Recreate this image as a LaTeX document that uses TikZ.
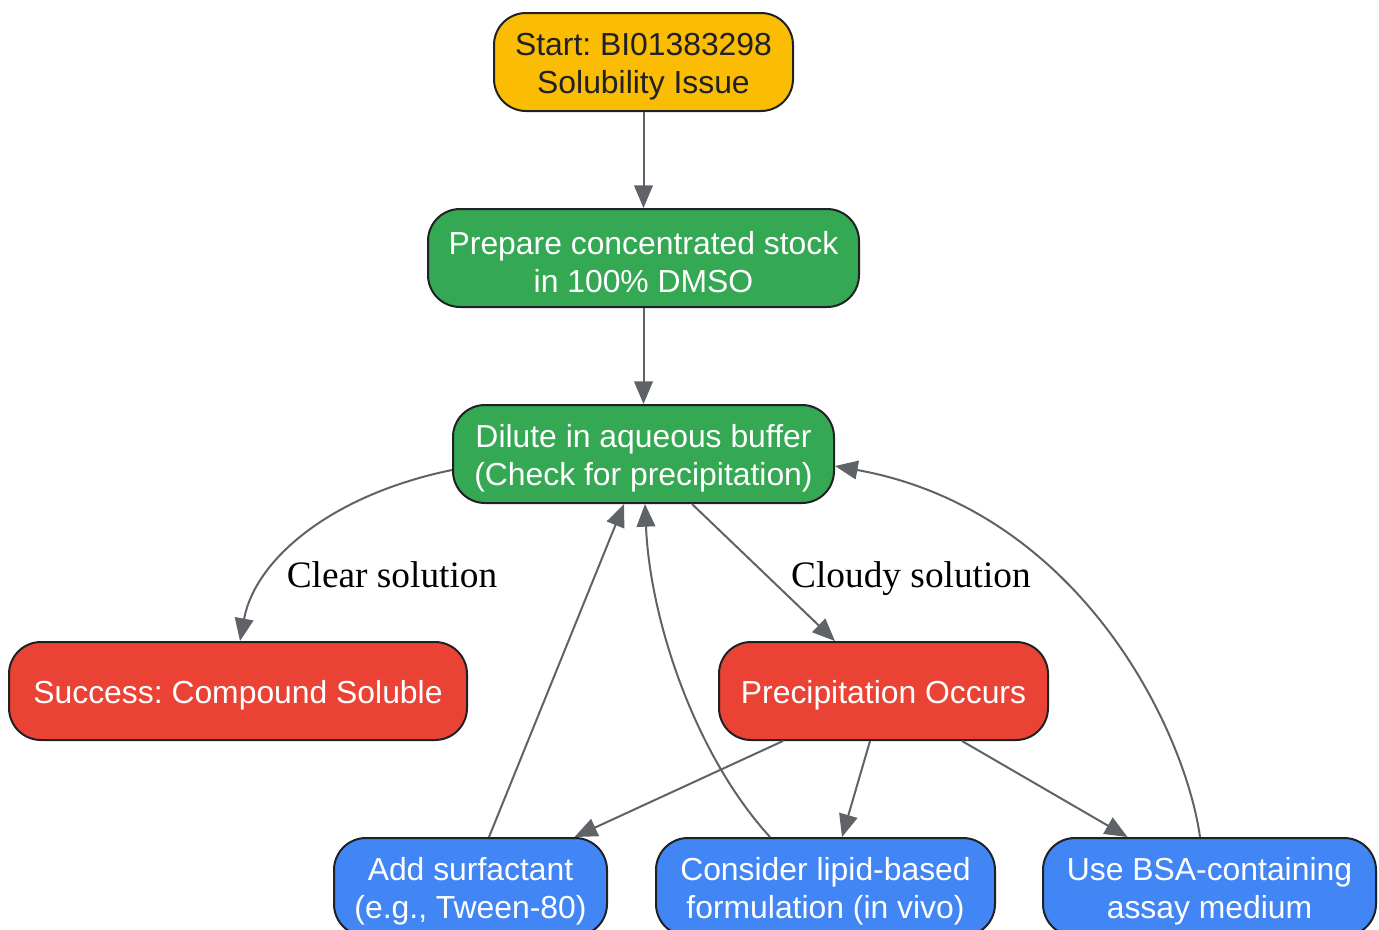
\documentclass[tikz,border=0pt]{standalone}
\usepackage{fontspec}
\setmainfont{Liberation Serif}
\setsansfont{Liberation Sans}
\usepackage{tikz}
\usetikzlibrary{arrows.meta, calc}
\frenchspacing
\definecolor{startyellow}{HTML}{FBBC04}
\definecolor{stepgreen}{HTML}{34A853}
\definecolor{outred}{HTML}{EA4335}
\definecolor{fixblue}{HTML}{4285F4}
\definecolor{edgegray}{HTML}{5F6368}
\definecolor{inkdark}{HTML}{202124}
\newcommand{\toppad}{\rule{0pt}{23.5pt}}
\tikzstyle{box} = [rectangle, rounded corners=24pt, minimum height=73.5pt, inner sep=0pt, align=center, draw=inkdark, line width=1.5pt, font=\sffamily\fontsize{23.9}{28.5}\selectfont]
\tikzstyle{startbox} = [box, fill=startyellow, text=inkdark]
\tikzstyle{stepbox} = [box, fill=stepgreen, text=white]
\tikzstyle{resultbox} = [box, fill=outred, text=white]
\tikzstyle{fixbox} = [box, fill=fixblue, text=white]
\tikzstyle{arrow} = [line width=1.5pt, draw=edgegray, -{Triangle[length=17pt,width=14pt]}]
\tikzstyle{edgelabel} = [anchor=base, font=\fontsize{28}{30}\selectfont, text=black]

\begin{document}
\begin{tikzpicture}[x=0.75pt, y=-0.75pt]
\useasboundingbox (0,0) rectangle (1379,929);
\node (start) [startbox, minimum width=224.25pt] at (643.5,62) {\toppad Start: BI01383298\\Solubility Issue};
\node (prep) [stepbox, minimum width=323.25pt] at (643.5,258) {\toppad Prepare concentrated stock\\in 100\% DMSO};
\node (dilute) [stepbox, minimum width=285.75pt] at (643.5,454) {\toppad Dilute in aqueous buffer\\(Check for precipitation)};
\node (success) [resultbox, minimum width=343.5pt] at (238,691) {\toppad Success: Compound Soluble};
\node (precip) [resultbox, minimum width=246.75pt] at (883.5,691) {\toppad Precipitation Occurs};
\node (surf) [fixbox, minimum width=204.75pt] at (470.5,887) {\toppad Add surfactant\\(e.g., Tween-80)};
\node (lipid) [fixbox, minimum width=254.25pt] at (825.5,887) {\toppad Consider lipid-based\\formulation (in vivo)};
\node (bsa) [fixbox, minimum width=249.75pt] at (1209.5,887) {\toppad Use BSA-containing\\assay medium};

\draw [arrow] (start) -- (prep);
\draw [arrow] (prep) -- (dilute);
\draw [arrow] ($(dilute.west)+(0,16)$) .. controls (330,495) and (255,560) .. ($(success.north)+(2,0)$);
\draw [arrow] ($(dilute.south)+(48.5,0)$) -- ($(precip.north)+(-48.5,0)$);
\draw [arrow] ($(precip.south)+(-100.5,0)$) -- ($(surf.north)+(104,0)$);
\draw [arrow] ($(precip.south)+(-13.5,0)$) -- ($(lipid.north)+(16.5,0)$);
\draw [arrow] ($(precip.south)+(78.5,0)$) -- ($(bsa.north)+(-82,0)$);
\draw [arrow] ($(surf.north)+(18.5,0)$) -- ($(dilute.south)+(-19.5,0)$);
\draw [arrow] ($(lipid.north)+(-55.5,0)$) .. controls (695,755) and (650,620) .. ($(dilute.south)+(1.5,0)$);
\draw [arrow] ($(bsa.north)+(-9.5,0)$) .. controls (1185,730) and (1080,510) .. ($(dilute.east)+(0,12)$);

\node (clearlbl) [edgelabel] at (392,587) {Clear solution};
\node (cloudylbl) [edgelabel] at (911,587) {Cloudy solution};
\end{tikzpicture}
\end{document}
